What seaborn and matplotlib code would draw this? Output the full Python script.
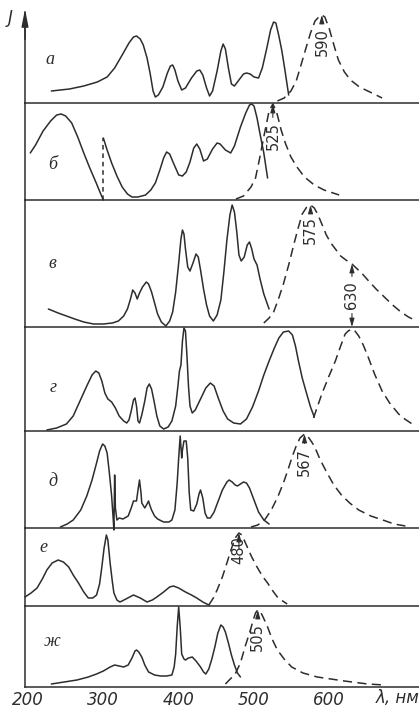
import matplotlib
matplotlib.use("Agg")
import matplotlib.pyplot as plt
import seaborn as sns

# ---------------- spectra: wavelength (nm) and intensity J (arb. units) ----------------
# а
a_abs_nm = [231, 255, 274, 292, 305, 315, 325, 334, 340, 344, 349, 353, 358, 362, 366, 369, 373, 379,
            385, 389, 392, 395, 399, 404, 409, 417, 424, 428, 432, 437, 441, 445, 451, 456, 459, 462,
            466, 470, 474, 480, 486, 490, 495, 500, 506, 511, 517, 522, 526, 529, 533, 537, 541, 546]
a_abs_j = [12, 14, 17, 21, 26, 35, 48, 60, 66, 67, 64, 58, 45, 30, 12, 6, 8, 16,
           30, 37, 38, 33, 22, 13, 15, 25, 32, 33, 28, 15, 7, 12, 32, 52, 59, 54,
           35, 19, 17, 23, 29, 30, 29, 26, 25, 35, 55, 73, 81, 80, 67, 52, 33, 8]
a_em_nm = [531, 540, 549, 556, 562, 569, 575, 581, 586, 590, 594, 600, 606, 612, 620, 628, 640, 651, 662, 670]
a_em_j = [2, 5, 12, 22, 37, 55, 70, 82, 86, 88, 86, 74, 58, 43, 31, 23, 16, 12, 8, 5]

# б (absorption drawn in two parts, joined by a dashed vertical at 300 nm)
b_abs1_nm = [203, 210, 220, 230, 238, 244, 250, 258, 266, 274, 282, 290, 296, 300]
b_abs1_j = [47, 55, 69, 79, 85, 86, 84, 77, 63, 47, 32, 18, 7, 0]
b_abs2_nm = [300, 305, 311, 318, 325, 332, 338, 346, 356, 363, 369, 375, 380, 384, 388, 393, 400, 405,
             410, 415, 420, 424, 428, 433, 438, 445, 451, 455, 462, 469, 474, 482, 489, 494, 497, 500,
             504, 508, 513, 518]
b_abs2_j = [62, 50, 37, 24, 13, 6, 3, 3, 5, 10, 17, 30, 42, 48, 46, 37, 25, 24,
            28, 38, 52, 56, 51, 39, 41, 51, 57, 56, 50, 47, 54, 73, 87, 95, 96, 94,
            82, 66, 47, 22]
b_em_nm = [476, 486, 496, 502, 507, 514, 520, 525, 530, 536, 542, 549, 557, 567, 580, 593, 613]
b_em_j = [1, 4, 13, 22, 40, 67, 89, 96, 88, 70, 56, 43, 33, 23, 15, 10, 5]

# в
v_abs_nm = [227, 240, 251, 262, 274, 287, 300, 312, 320, 327, 332, 336, 339, 342, 345, 348, 352, 357,
            360, 364, 368, 372, 377, 383, 388, 392, 396, 400, 403, 405, 407, 409, 412, 415, 419, 423,
            426, 429, 433, 437, 441, 446, 451, 456, 460, 464, 468, 471, 474, 477, 480, 483, 487, 491,
            494, 497, 500, 504, 508, 513, 520]
v_abs_j = [18, 14, 11, 8, 5, 3, 3, 4, 6, 11, 18, 28, 37, 34, 28, 34, 40, 45,
           43, 35, 24, 13, 5, 1, 6, 15, 35, 64, 88, 97, 93, 78, 60, 56, 64, 73,
           70, 57, 38, 22, 11, 6, 12, 27, 55, 87, 112, 122, 115, 96, 72, 66, 70, 82,
           85, 78, 68, 62, 48, 33, 18]
v_em_nm = [513, 520, 526, 532, 539, 546, 553, 559, 564, 570, 575, 580, 585, 590, 596, 602, 609, 615,
           622, 630, 637, 644, 651, 662, 673, 684, 695, 705, 713]
v_em_j = [4, 9, 15, 27, 43, 62, 83, 100, 113, 120, 122, 119, 112, 103, 92, 84, 77, 71,
          67, 63, 58, 53, 47, 38, 30, 22, 15, 10, 7]

# г
g_abs_nm = [225, 238, 251, 260, 269, 278, 285, 290, 294, 298, 302, 306, 311, 316, 321, 327, 331, 334,
            337, 340, 342, 344, 346, 348, 351, 355, 358, 361, 364, 367, 371, 375, 380, 386, 391, 396,
            399, 401, 403, 405, 407, 409, 411, 413, 415, 418, 422, 429, 436, 442, 447, 453, 459, 465,
            473, 482, 490, 498, 506, 513, 520, 527, 533, 539, 546, 551, 555, 559, 564, 570, 575, 580]
g_abs_j = [1, 3, 7, 15, 30, 45, 56, 60, 58, 50, 38, 32, 29, 23, 15, 10, 8, 11,
           20, 31, 33, 25, 10, 8, 16, 30, 43, 47, 42, 31, 15, 5, 2, 4, 10, 25,
           45, 60, 66, 90, 103, 100, 75, 45, 25, 18, 21, 32, 43, 48, 45, 32, 20, 12,
           8, 7, 12, 24, 40, 56, 70, 83, 93, 99, 100, 96, 85, 70, 53, 37, 24, 14]
g_em_nm = [579, 584, 590, 599, 608, 615, 621, 625, 630, 634, 639, 645, 652, 660, 670, 680, 692, 700, 710]
g_em_j = [13, 24, 37, 54, 70, 85, 97, 100, 102, 100, 95, 86, 73, 57, 40, 28, 17, 12, 7]

# д
d_abs_nm = [243, 252, 260, 270, 278, 285, 291, 295, 299, 302, 305, 308, 311, 313, 314, 315, 316, 318,
            321, 326, 333, 337, 340, 344, 346, 348, 350, 351, 355, 358, 360, 362, 364, 368, 372, 380,
            387, 391, 395, 398, 400, 402, 404, 405, 407, 410, 412, 414, 416, 420, 424, 427, 429, 432,
            435, 438, 442, 447, 452, 458, 464, 467, 471, 475, 478, 482, 486, 490, 494, 500, 506, 513, 520]
d_abs_j = [1, 4, 8, 18, 32, 48, 65, 77, 84, 82, 75, 55, 32, 10, -2, 53, 20, 8,
           10, 9, 12, 20, 27, 27, 38, 48, 35, 25, 20, 24, 27, 22, 18, 12, 9, 6,
           6, 8, 18, 45, 70, 92, 70, 78, 87, 87, 70, 35, 18, 17, 24, 34, 38, 30,
           15, 10, 10, 16, 26, 38, 46, 48, 46, 43, 42, 44, 46, 45, 40, 28, 16, 8, 4]
d_em_nm = [496, 505, 514, 523, 532, 539, 545, 551, 556, 561, 567, 573, 580, 588, 597, 606, 616, 627,
           639, 655, 671, 686, 701]
d_em_j = [1, 3, 8, 18, 32, 45, 58, 72, 82, 90, 94, 90, 82, 68, 55, 43, 33, 25, 18, 12, 8, 4, 2]

# е
e_abs_nm = [196, 204, 212, 219, 225, 232, 240, 247, 254, 260, 267, 274, 280, 286, 291, 295, 298, 301,
            304, 306, 309, 312, 314, 318, 322, 330, 340, 349, 358, 365, 371, 380, 388, 393, 400, 409,
            417, 424, 432, 440]
e_abs_j = [9, 13, 18, 27, 36, 43, 46, 44, 39, 31, 23, 14, 8, 8, 11, 22, 39, 58,
           71, 66, 43, 24, 13, 6, 4, 7, 11, 8, 4, 6, 9, 14, 19, 20, 18, 14,
           11, 8, 4, 1]
e_em_nm = [440, 446, 451, 458, 464, 469, 473, 476, 480, 484, 491, 497, 504, 511, 518, 525, 531, 538, 544]
e_em_j = [1, 8, 16, 29, 43, 55, 64, 69, 73, 71, 59, 49, 39, 30, 23, 15, 9, 5, 2]

# ж
zh_abs_nm = [231, 248, 265, 280, 291, 300, 309, 315, 321, 327, 333, 338, 342, 344, 347, 351, 355, 360,
             368, 376, 384, 391, 394, 396, 398, 400, 402, 404, 407, 409, 413, 418, 423, 429, 433, 436,
             440, 444, 448, 452, 456, 459, 462, 466, 470, 474, 478, 482]
zh_abs_j = [3, 5, 7, 10, 13, 16, 20, 22, 21, 20, 22, 29, 36, 37, 35, 30, 22, 15,
            12, 11, 11, 12, 20, 33, 60, 80, 60, 33, 28, 27, 29, 30, 26, 20, 15, 13,
            18, 28, 40, 54, 62, 60, 55, 44, 32, 22, 14, 10]
zh_em_nm = [462, 475, 482, 488, 494, 499, 502, 505, 508, 512, 518, 524, 531, 540, 550, 565, 584, 620, 651, 673]
zh_em_j = [3, 13, 24, 40, 54, 67, 74, 77, 76, 70, 60, 48, 37, 28, 20, 14, 10, 6, 3, 2]

panel_letters = ["а", "б", "в", "г", "д", "е", "ж"]
peak_labels = [590, 525, 575, 567, 480, 505]   # emission maxima, nm
shoulder_label = 630                           # в shoulder / г maximum, nm
tick_values = [200, 300, 400, 500, 600]
tick_labels = ["200", "300", "400", "500", "600"]

# ---------------- styling ----------------
sns.set_theme(style="white")
INK = "#2d2d2d"
plt.rcParams["font.family"] = ["Liberation Sans Narrow", "DejaVu Sans"]
plt.rcParams["text.color"] = INK

W, H = 419, 710
fig = plt.figure(figsize=(W / 100, H / 100), dpi=100)
fig.patch.set_facecolor("white")

# panel heights (px) from top to bottom, bottom baseline position
heights = [91, 97, 127, 104, 97, 78, 81]
bottom_px = 687
left_px = 25
XLIM = (196, 719)

axes = []
y_bottom = H - bottom_px
for hgt in reversed(heights):
    ax = fig.add_axes([left_px / W, y_bottom / H, 1 - left_px / W, hgt / H])
    axes.insert(0, ax)
    y_bottom += hgt

LW = 1.1
DASH = (6, 3.5)


def draw(ax, xs, ys, dashed=False):
    sns.lineplot(x=xs, y=ys, ax=ax, color=INK, linewidth=LW, sort=False, estimator=None)
    ln = ax.lines[-1]
    ln.set_clip_on(False)
    ln.set_solid_capstyle("round")
    ln.set_solid_joinstyle("round")
    if dashed:
        ln.set_dashes(DASH)
    return ln


curves = [
    [(a_abs_nm, a_abs_j, False), (a_em_nm, a_em_j, True)],
    [(b_abs1_nm, b_abs1_j, False), (b_abs2_nm, b_abs2_j, False), (b_em_nm, b_em_j, True)],
    [(v_abs_nm, v_abs_j, False), (v_em_nm, v_em_j, True)],
    [(g_abs_nm, g_abs_j, False), (g_em_nm, g_em_j, True)],
    [(d_abs_nm, d_abs_j, False), (d_em_nm, d_em_j, True)],
    [(e_abs_nm, e_abs_j, False), (e_em_nm, e_em_j, True)],
    [(zh_abs_nm, zh_abs_j, False), (zh_em_nm, zh_em_j, True)],
]

for i, ax in enumerate(axes):
    for xs, ys, dashed in curves[i]:
        draw(ax, xs, ys, dashed)
    ax.set_xlim(*XLIM)
    ax.set_ylim(0, heights[i])
    ax.set_facecolor("none")
    for side in ("top", "right"):
        ax.spines[side].set_visible(False)
    for side in ("left", "bottom"):
        ax.spines[side].set_color(INK)
        ax.spines[side].set_linewidth(1.1)
    ax.set_yticks([])
    ax.set_xticks(tick_values)
    last = (i == len(axes) - 1)
    if last:
        ax.set_xticklabels(tick_labels, fontstyle="italic", fontsize=12, color=INK)
    ax.tick_params(axis="x", direction="in", length=4, width=1.0, color=INK,
                   labelbottom=last, pad=3)
    ax.xaxis.get_major_ticks()[0].tick1line.set_visible(False)

# dashed vertical joining the two б absorption pieces
axes[1].vlines(b_abs2_nm[0], b_abs1_j[-1], b_abs2_j[0], colors=INK, linewidth=LW,
               linestyles=(0, (3, 2.5)))

# panel letters
letter_pos = [(229, 43), (233, 35), (233, 64), (233, 43), (233, 46), (220, 58), (232, 45)]
for ax, letter, (lx, ly) in zip(axes, panel_letters, letter_pos):
    ax.text(lx, ly, letter, fontsize=13, fontstyle="italic", ha="center", va="center",
            family=["Liberation Serif", "DejaVu Serif"], color=INK)

# peak labels with arrows
ARROW = dict(arrowstyle="-|>,head_length=0.55,head_width=0.16", color=INK, lw=0.8,
             shrinkA=1, shrinkB=0, mutation_scale=9)


def value_at(xs, ys, x):
    return ys[xs.index(x)]


em_sets = [(0, a_em_nm, a_em_j, 61), (1, b_em_nm, b_em_j, 64), (2, v_em_nm, v_em_j, 97),
           (4, d_em_nm, d_em_j, 66), (5, e_em_nm, e_em_j, 56), (6, zh_em_nm, zh_em_j, 50)]
for (idx, xs, ys, ty), lab in zip(em_sets, peak_labels):
    ax = axes[idx]
    ax.annotate(str(lab), xy=(lab, value_at(xs, ys, lab)), xytext=(lab, ty),
                rotation=90, ha="center", va="center", fontsize=10.5, color=INK,
                arrowprops=ARROW, annotation_clip=False)

# 630: shoulder of в emission and maximum of г emission
ax = axes[2]
ax.annotate(str(shoulder_label), xy=(shoulder_label, value_at(v_em_nm, v_em_j, shoulder_label)),
            xytext=(shoulder_label, 32), rotation=90, ha="center", va="center",
            fontsize=10.5, color=INK, arrowprops=ARROW, annotation_clip=False)
ax.annotate(str(shoulder_label), xy=(shoulder_label, 0), xytext=(shoulder_label, 32),
            rotation=90, ha="center", va="center", fontsize=10.5, color="none",
            arrowprops=ARROW, annotation_clip=False)

# intensity axis arrow and label
top = axes[0]
top.annotate("", xy=(0, 1.03), xycoords="axes fraction", xytext=(0, 0.7),
             arrowprops=dict(arrowstyle="-|>,head_length=1.0,head_width=0.2", color=INK,
                             lw=1.1, shrinkA=0, shrinkB=0, mutation_scale=10),
             annotation_clip=False)
top.text(-0.038, 0.93, "J", transform=top.transAxes, fontsize=12, fontstyle="italic",
         ha="center", va="center", color=INK)

# wavelength unit
bot = axes[-1]
bot.text(690, -0.14, "λ, нм", transform=bot.get_xaxis_transform(), fontsize=12,
         fontstyle="italic", ha="center", va="center", color=INK)

fig.savefig("out.png", dpi=100, facecolor="white")
